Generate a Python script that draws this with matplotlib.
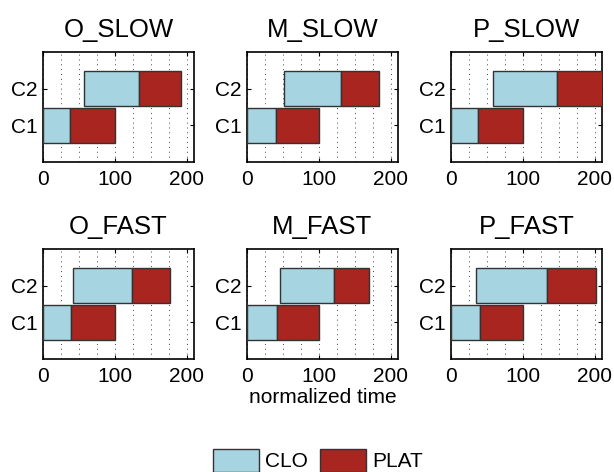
import matplotlib
matplotlib.use('Agg')
import matplotlib.pyplot as plt
import numpy as np
from matplotlib.patches import Patch

plt.rcParams['font.family'] = ['Liberation Sans', 'DejaVu Sans']

panels = ['O_SLOW', 'M_SLOW', 'P_SLOW', 'O_FAST', 'M_FAST', 'P_FAST']
rows = ['C1', 'C2']
# C1 starts at 0 in every panel
c1_clo_end = [38, 40, 38, 39, 42, 41]
c1_plat_end = [100, 100, 100, 100, 100, 100]
c2_start = [57, 52, 59, 42, 46, 35]
c2_clo_end = [134, 131, 148, 124, 121, 134]
c2_plat_end = [192, 184, 215, 176, 170, 202]

clo_color = '#a6d4e1'
plat_color = '#a82520'
edge = '#333333'

W, H = 614, 472
fig = plt.figure(figsize=(W / 100, H / 100), dpi=100)

lefts = [43, 247, 451]
tops = [52, 249]
aw, ah = 151, 110

for i, name in enumerate(panels):
    r, c = divmod(i, 3)
    ax = fig.add_axes([lefts[c] / W, 1 - (tops[r] + ah) / H, aw / W, ah / H])
    starts = [0, c2_start[i]]
    clo_end = [c1_clo_end[i], c2_clo_end[i]]
    plat_end = [c1_plat_end[i], c2_plat_end[i]]
    y = [1, 2]
    ax.barh(y, np.subtract(clo_end, starts), left=starts, height=0.95,
            color=clo_color, edgecolor=edge, linewidth=1, zorder=3)
    ax.barh(y, np.subtract(plat_end, clo_end), left=clo_end, height=0.95,
            color=plat_color, edgecolor=edge, linewidth=1, zorder=3)
    ax.set_xlim(0, 210)
    ax.set_ylim(0, 3)
    ax.set_xticks([0, 100, 200])
    ax.set_xticks(np.arange(25, 210, 25), minor=True)
    ax.set_yticks(y)
    ax.set_yticklabels(rows)
    ax.grid(True, axis='x', which='both', linestyle=(0, (1, 4)), color='#444444',
            linewidth=0.7, zorder=0)
    ax.tick_params(direction='in', top=True, right=True, labelsize=15,
                   length=3, pad=6)
    ax.tick_params(axis='y', pad=4)
    ax.tick_params(which='minor', length=0)
    for s in ax.spines.values():
        s.set_linewidth(1.2)
    ax.set_title(name, fontsize=18.5, pad=11)
    if name == 'M_FAST':
        ax.set_xlabel('normalized time', fontsize=15, labelpad=1)

handles = [Patch(facecolor=clo_color, edgecolor=edge, label='CLO'),
           Patch(facecolor=plat_color, edgecolor=edge, label='PLAT')]
fig.legend(handles=handles, loc='upper center', bbox_to_anchor=(0.518, 1 - 449 / H),
           ncol=2, frameon=False, fontsize=15, handlelength=2.2, handleheight=1.3,
           handletextpad=0.3, columnspacing=0.6, borderaxespad=0, borderpad=0)

fig.savefig('out.png', dpi=100)
